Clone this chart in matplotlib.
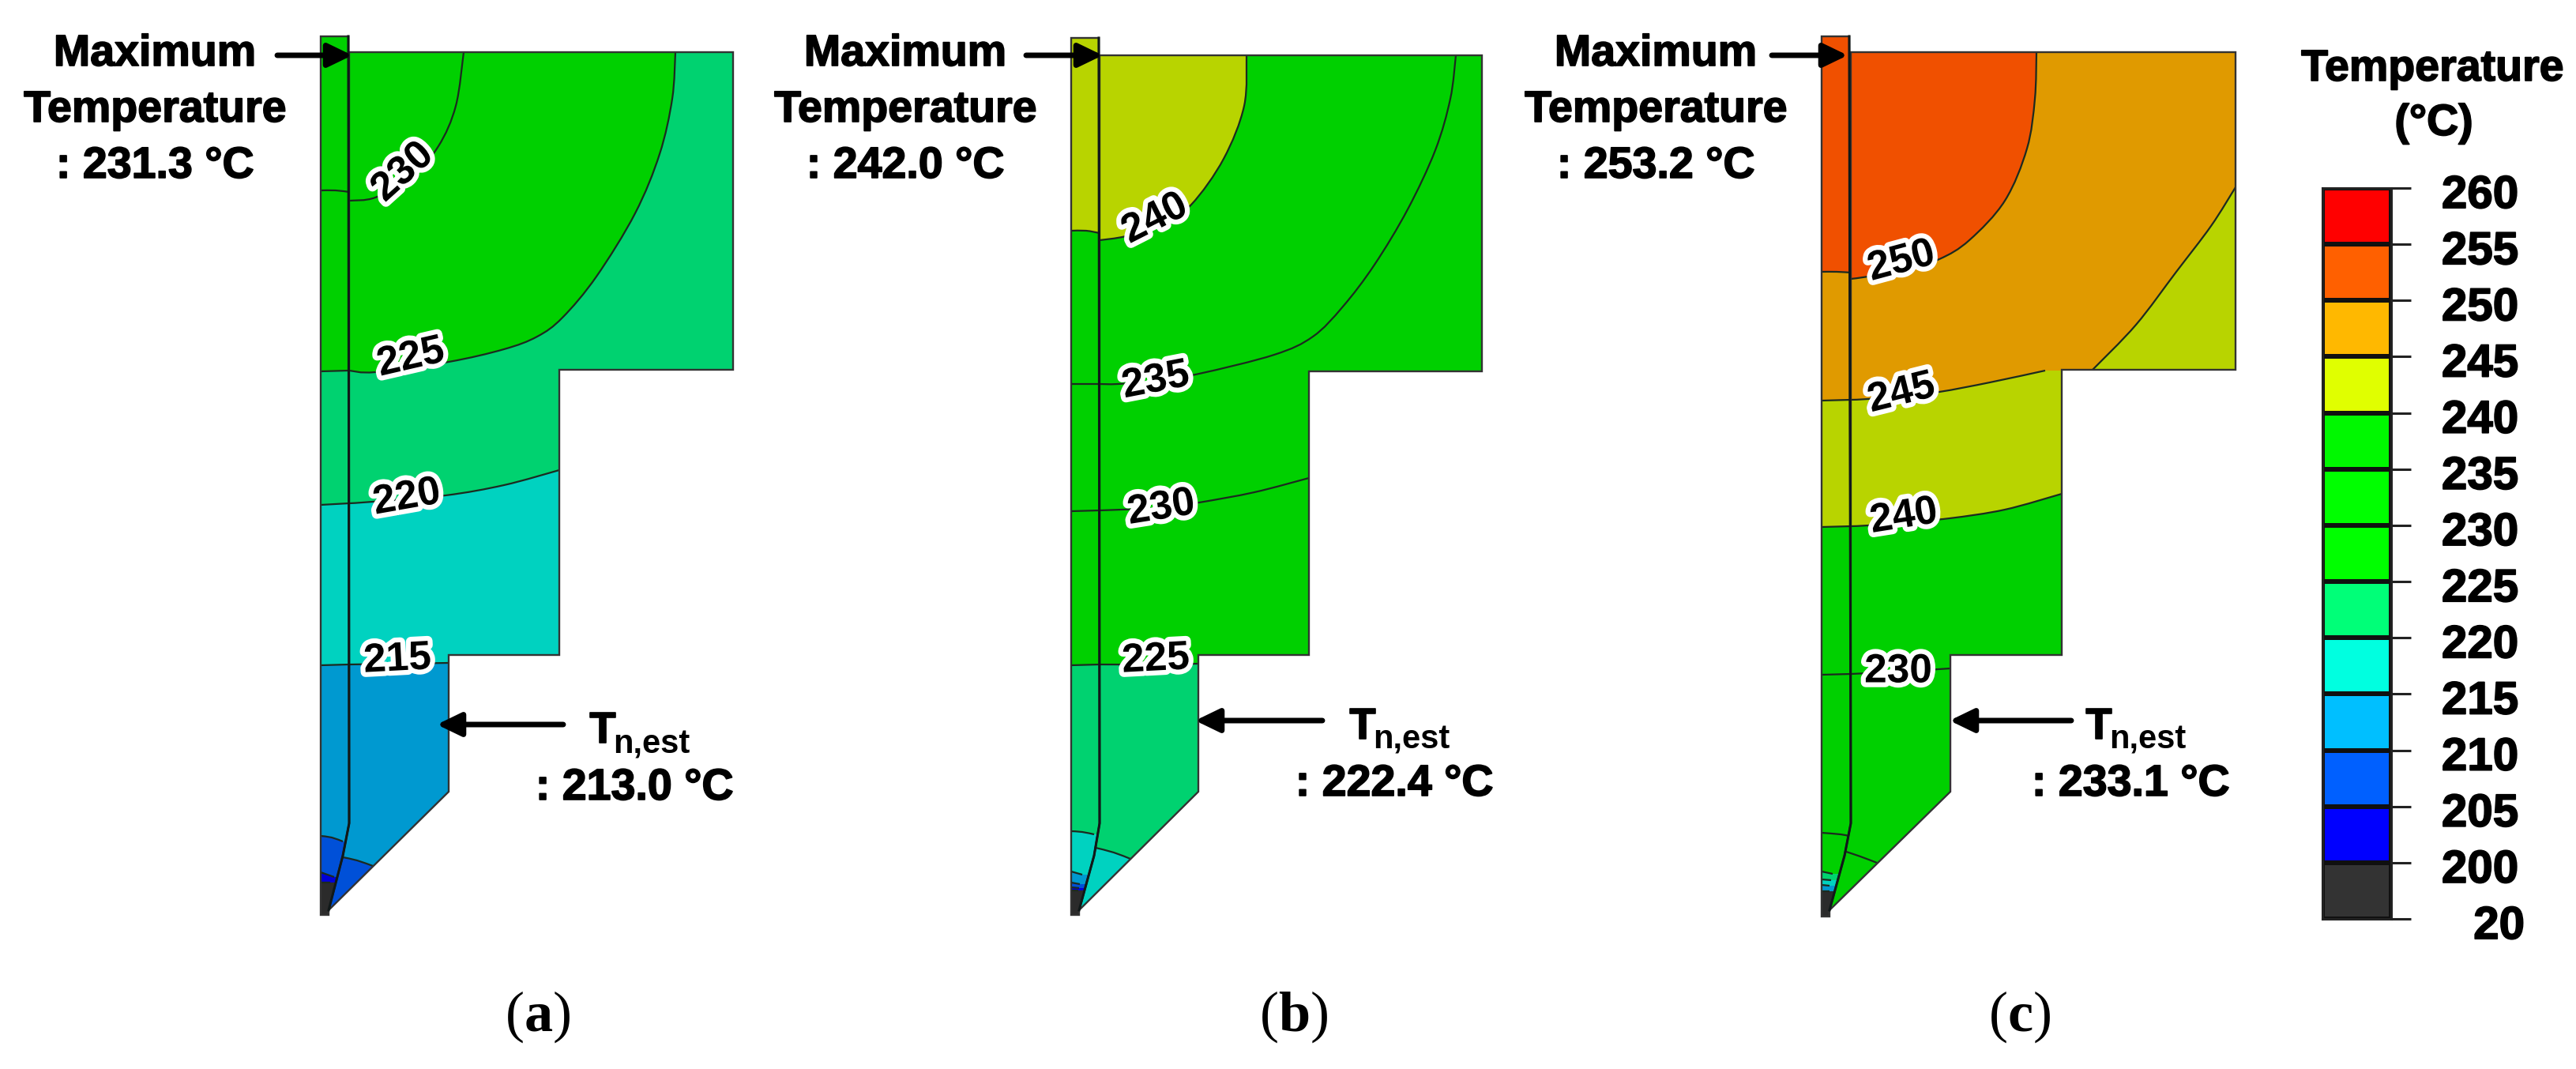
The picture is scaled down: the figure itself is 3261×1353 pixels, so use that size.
import numpy as np
import matplotlib
matplotlib.use("Agg")
import matplotlib.pyplot as plt
import matplotlib.patheffects as pe
from matplotlib.colors import ListedColormap
from matplotlib.patches import PathPatch
from matplotlib.path import Path
from matplotlib.transforms import ScaledTranslation

plt.rcParams['font.family'] = ['Liberation Sans', 'DejaVu Sans']
plt.rcParams['mathtext.fontset'] = 'custom'
plt.rcParams['mathtext.rm'] = 'Liberation Serif'
plt.rcParams['mathtext.bf'] = 'Liberation Serif:bold'

# scale of the colour bar
SCALE_LABELS = ["20", "200", "205", "210", "215", "220", "225", "230", "235", "240", "245", "250", "255", "260"]
SCALE_COLORS = ["#333333", "#0000FF", "#0060FF", "#00BFFF", "#00FFE0", "#00FF78", "#00FF00",
                "#00FF00", "#00F800", "#E0FF00", "#FFB800", "#FF6000", "#FF0000"]

# muted colours of the contour bands, by lower bound of the band
BAND_COLORS = {20: "#2B2B2B", 200: "#0000D8", 205: "#0050D8", 210: "#0099D0", 215: "#00D2C0",
               220: "#00D270", 225: "#00D000", 230: "#00D000", 235: "#00D000", 240: "#B8D400",
               245: "#E09A00", 250: "#F05000"}

# --- panel a, outline and isotherms, in picture pixels
A_STRIP = [(406, 46), (441, 46), (442, 1042), (434, 1083), (416, 1152), (416, 1158), (406, 1158)]
A_MAIN = [(442, 66), (928, 66), (928, 468), (708, 468), (708, 829), (568, 829), (568, 1002),
          (416, 1152), (434, 1083), (442, 1042)]
A_230 = [(442, 254), (475, 250), (520, 225), (555, 185), (577, 134), (587, 66)]
A_225 = [(442, 469), (475, 471), (568, 458), (638, 442), (680, 426), (712, 402), (755, 350),
         (804, 270), (835, 195), (851, 125), (855, 66)]
A_220 = [(442, 637), (472, 635), (564, 627), (638, 614), (708, 595)]
A_215 = [(442, 841), (505, 840), (568, 839)]
A_NOSE = [(434, 1085), (452, 1089), (472, 1096)]
A_S230 = [(406, 241), (425, 241), (442, 243)]
A_S225 = [(406, 470), (442, 469)]
A_S220 = [(406, 639), (442, 637)]
A_S215 = [(406, 842), (442, 841)]
A_S210 = [(406, 1058), (420, 1060), (434, 1065)]
A_S205 = [(406, 1104), (423, 1110)]
A_S200 = [(406, 1117), (418, 1117)]
A_MAIN_CURVES = [A_230, A_225, A_220, A_215, A_NOSE]
A_MAIN_BANDS = [230, 225, 220, 215, 210, 205]
A_STRIP_CURVES = [A_S230, A_S225, A_S220, A_S215, A_S210, A_S205, A_S200]
A_STRIP_BANDS = [230, 225, 220, 215, 210, 205, 200, 20]

# --- panel b
B_STRIP = [(1356, 48), (1391, 48), (1392, 1042), (1385, 1083), (1366, 1152), (1366, 1158), (1356, 1158)]
B_MAIN = [(1392, 70), (1876, 70), (1876, 470), (1657, 470), (1657, 829), (1517, 829), (1517, 1002),
          (1366, 1152), (1385, 1083), (1392, 1042)]
B_240 = [(1392, 304), (1425, 299), (1470, 285), (1508, 259), (1549, 201), (1575, 134), (1578, 70)]
B_235 = [(1392, 486), (1415, 486), (1463, 482), (1518, 473), (1613, 449), (1662, 426), (1700, 388),
         (1740, 335), (1782, 265), (1817, 190), (1836, 125), (1843, 70)]
B_230 = [(1392, 646), (1420, 645), (1470, 643), (1518, 636), (1588, 623), (1657, 605)]
B_225 = [(1392, 841), (1460, 841), (1517, 840)]
B_NOSE = [(1387, 1073), (1410, 1079), (1431, 1087)]
B_S240 = [(1356, 292), (1375, 292), (1392, 295)]
B_S235 = [(1356, 486), (1392, 486)]
B_S230 = [(1356, 647), (1392, 646)]
B_S225 = [(1356, 842), (1392, 841)]
B_S220 = [(1356, 1052), (1370, 1053), (1385, 1056)]
B_S215 = [(1356, 1103), (1370, 1107)]
B_S210 = [(1356, 1117), (1367, 1119)]
B_S205 = [(1356, 1123), (1366, 1124)]
B_S200 = [(1356, 1127), (1365, 1127)]
B_MAIN_CURVES = [B_240, B_235, B_230, B_225, B_NOSE]
B_MAIN_BANDS = [240, 235, 230, 225, 220, 215]
B_STRIP_CURVES = [B_S240, B_S235, B_S230, B_S225, B_S220, B_S215, B_S210, B_S205, B_S200]
B_STRIP_BANDS = [240, 235, 230, 225, 220, 215, 210, 205, 200, 20]

# --- panel c
C_STRIP = [(2306, 46), (2341, 46), (2343, 1042), (2335, 1083), (2316, 1152), (2316, 1160), (2306, 1160)]
C_MAIN = [(2343, 66), (2830, 66), (2830, 468), (2610, 468), (2610, 829), (2469, 829), (2469, 1002),
          (2316, 1152), (2335, 1083), (2343, 1042)]
C_250 = [(2343, 353), (2365, 350), (2410, 342), (2455, 328), (2493, 304), (2538, 254), (2566, 188),
         (2576, 125), (2578, 66)]
C_245 = [(2343, 506), (2365, 505), (2407, 501), (2455, 496), (2519, 484), (2589, 469)]
C_245B = [(2649, 468), (2704, 411), (2755, 344), (2799, 286), (2830, 237)]
C_240 = [(2343, 666), (2365, 665), (2410, 661), (2468, 656), (2538, 645), (2610, 625)]
C_230 = [(2343, 853), (2405, 850), (2469, 846)]
C_NOSE = [(2334, 1077), (2355, 1084), (2376, 1092)]
C_S250 = [(2306, 344), (2325, 344), (2343, 345)]
C_S245 = [(2306, 507), (2343, 506)]
C_S240 = [(2306, 667), (2343, 666)]
C_S230 = [(2306, 854), (2343, 853)]
C_S225 = [(2306, 1054), (2330, 1056), (2340, 1058)]
C_S220 = [(2306, 1103), (2320, 1106)]
C_S215 = [(2306, 1113), (2318, 1114)]
C_S210 = [(2306, 1120), (2316, 1121)]
C_S205 = [(2306, 1128), (2316, 1128)]
C_MAIN_CURVES = [C_250, C_245B, C_245, C_240, C_230, C_NOSE]
C_MAIN_BANDS = [250, 245, 240, 240, 235, 225, 225]
C_STRIP_CURVES = [C_S250, C_S245, C_S240, C_S230, C_S225, C_S220, C_S215, C_S210, C_S205]
C_STRIP_BANDS = [250, 245, 240, 235, 225, 225, 220, 215, 210, 20]

# isotherm labels: text, x, y, rotation
A_LABELS = [("230", 510, 218, 42), ("225", 520, 453, 13), ("220", 515, 630, 10), ("215", 503, 835, 3)]
B_LABELS = [("240", 1462, 277, 27), ("235", 1463, 482, 11), ("230", 1470, 643, 9), ("225", 1463, 835, 3)]
C_LABELS = [("250", 2407, 331, 15), ("245", 2407, 498, 14), ("240", 2410, 654, 9), ("230", 2403, 850, 0)]

PANEL_NAMES = ["a", "b", "c"]
MAX_TEMPS = ["231.3", "242.0", "253.2"]
NODE_TEMPS = ["213.0", "222.4", "233.1"]

HEAVY = [pe.withStroke(linewidth=1.2, foreground="black")]


def smooth_path(points, close_far=None, right_only=False):
    # catmull-rom through the picked points, so the isotherms are not kinked
    pts = np.array(points, dtype=float)
    verts = [pts[0]]
    codes = [Path.MOVETO]
    for i in range(len(pts) - 1):
        p0 = pts[max(i - 1, 0)]
        p1 = pts[i]
        p2 = pts[i + 1]
        p3 = pts[min(i + 2, len(pts) - 1)]
        verts += [p1 + (p2 - p0) / 6, p2 - (p3 - p1) / 6, p2]
        codes += [Path.CURVE4] * 3
    if close_far is not None:
        x0, y0 = pts[0]
        xn, yn = pts[-1]
        left = x0 if right_only else x0 - 300
        for v in [(close_far, yn), (close_far, close_far), (left, close_far), (left, y0), (x0, y0)]:
            verts.append(np.array(v))
            codes.append(Path.LINETO)
    return Path(np.array(verts), codes)


def draw_body(ax, outline, curves, bands):
    body = PathPatch(Path(outline + [outline[0]], closed=True), fc=BAND_COLORS[bands[0]], ec="none", zorder=2)
    ax.add_patch(body)
    for curve, band in zip(curves, bands[1:]):
        # a curve that starts on the step edge only colours what lies right of it
        fill = PathPatch(smooth_path(curve, close_far=4000, right_only=curve is C_245B),
                         fc=BAND_COLORS[band], ec="none", zorder=2)
        ax.add_patch(fill)
        fill.set_clip_path(body)
    for curve in curves:
        line = PathPatch(smooth_path(curve), fc="none", ec="#1c2a20", lw=1.6, zorder=3)
        ax.add_patch(line)
        line.set_clip_path(body)
    ax.add_patch(PathPatch(Path(outline + [outline[0]], closed=True), fc="none", ec="#333333", lw=1.7,
                           joinstyle="miter", zorder=4))


def arrow(ax, tip, tail):
    ax.annotate("", xy=tip, xytext=tail, zorder=6,
                arrowprops=dict(arrowstyle="-|>,head_length=0.62,head_width=0.3", color="black", lw=5,
                                mutation_scale=30, shrinkA=0, shrinkB=0))


fig = plt.figure(figsize=(32.62, 13.53), dpi=100)
ax = fig.add_axes([0, 0, 1, 1])
ax.set_xlim(0, 3262)
ax.set_ylim(1353, 0)
ax.axis("off")

panels = [
    (A_STRIP, A_STRIP_CURVES, A_STRIP_BANDS, A_MAIN, A_MAIN_CURVES, A_MAIN_BANDS, A_LABELS),
    (B_STRIP, B_STRIP_CURVES, B_STRIP_BANDS, B_MAIN, B_MAIN_CURVES, B_MAIN_BANDS, B_LABELS),
    (C_STRIP, C_STRIP_CURVES, C_STRIP_BANDS, C_MAIN, C_MAIN_CURVES, C_MAIN_BANDS, C_LABELS),
]
for strip, s_curves, s_bands, main, m_curves, m_bands, labels in panels:
    draw_body(ax, strip, s_curves, s_bands)
    draw_body(ax, main, m_curves, m_bands)
    inner = [strip[1], strip[2], strip[3], strip[4]]
    ax.plot(*zip(*inner), color="#101818", lw=2.2, zorder=5)
    for txt, x, y, rot in labels:
        ax.text(x, y, txt, fontsize=37, fontweight="bold", ha="center", va="center", rotation=rot,
                rotation_mode="anchor", zorder=7,
                path_effects=[pe.withStroke(linewidth=9, foreground="white")])

# annotations
head_x = [196, 1146, 2096]
max_tips = [(446, 70), (1396, 70), (2339, 70)]
max_tails = [(351, 70), (1299, 70), (2243, 70)]
node_tips = [(553, 917), (1513, 912), (2468, 912)]
node_tails = [(713, 917), (1674, 912), (2622, 912)]
t_x = [746, 1708, 2640]
t_base = [940, 935, 935]
node_x = [803, 1765, 2697]
node_base = [1012, 1007, 1007]
letter_x = [681, 1638, 2557]

for i in range(3):
    ax.text(head_x[i], 83, "Maximum", fontsize=40, fontweight="bold", ha="center", va="baseline", path_effects=HEAVY)
    ax.text(head_x[i], 154, "Temperature", fontsize=40, fontweight="bold", ha="center", va="baseline", path_effects=HEAVY)
    ax.text(head_x[i], 225, f": {MAX_TEMPS[i]} °C", fontsize=40, fontweight="bold", ha="center", va="baseline", path_effects=HEAVY)
    arrow(ax, max_tips[i], max_tails[i])
    arrow(ax, node_tips[i], node_tails[i])
    ax.text(t_x[i], t_base[i], "T", fontsize=40, fontweight="bold", ha="left", va="baseline", path_effects=HEAVY)
    ax.text(t_x[i] + 30, t_base[i] + 13, "n,est", fontsize=30, fontweight="bold", ha="left", va="baseline")
    ax.text(node_x[i], node_base[i], f": {NODE_TEMPS[i]} °C", fontsize=40, fontweight="bold",
            ha="center", va="baseline", path_effects=HEAVY)
    ax.text(letter_x[i], 1287, rf"($\mathbf{{{PANEL_NAMES[i]}}}$)", fontsize=52,
            family="Liberation Serif", ha="center", va="center")

# colour bar
ax.text(3079, 102, "Temperature", fontsize=40, fontweight="bold", ha="center", va="baseline", path_effects=HEAVY)
ax.text(3081, 171, "(°C)", fontsize=40, fontweight="bold", ha="center", va="baseline", path_effects=HEAVY)

cax = fig.add_axes([2940 / 3262, 1 - 1163 / 1353, 87 / 3262, 925 / 1353])
n = len(SCALE_COLORS)
cax.pcolormesh([0, 1], np.arange(n + 1), np.arange(n).reshape(n, 1), cmap=ListedColormap(SCALE_COLORS),
               vmin=-0.5, vmax=n - 0.5, edgecolors="#101010", linewidth=3)
cax.set_xticks([])
cax.set_yticks(np.arange(n + 1))
cax.set_yticklabels(SCALE_LABELS, fontsize=42, fontweight="bold")
cax.yaxis.tick_right()
cax.tick_params(axis="y", length=18, width=2.2, color="#222222", pad=28)
cax.yaxis.get_major_ticks()[0].set_pad(57)
for lab in cax.get_yticklabels():
    lab.set_transform(lab.get_transform() + ScaledTranslation(0, -3 / 72, fig.dpi_scale_trans))
    lab.set_path_effects(HEAVY)
for s in cax.spines.values():
    s.set_linewidth(2.2)
    s.set_color("#222222")

fig.savefig("out.png", dpi=100, facecolor="white")
